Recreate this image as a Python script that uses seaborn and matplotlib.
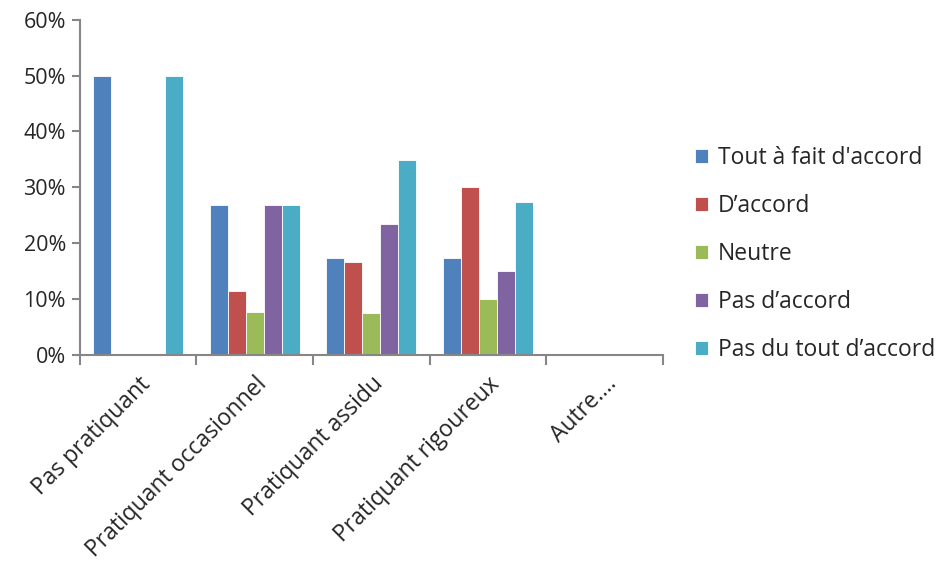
import pandas as pd
import numpy as np
import seaborn as sns
import matplotlib.pyplot as plt
from matplotlib.ticker import PercentFormatter

categories = ["Pas pratiquant", "Pratiquant occasionnel", "Pratiquant assidu",
              "Pratiquant rigoureux", "Autre…."]
series = ["Tout à fait d'accord", "D\u2019accord", "Neutre",
          "Pas d\u2019accord", "Pas du tout d\u2019accord"]

tout_a_fait = [50.0, 26.9, 17.4, 17.4, 0]
d_accord = [0, 11.5, 16.6, 30.0, 0]
neutre = [0, 7.7, 7.5, 10.0, 0]
pas_d_accord = [0, 26.9, 23.4, 15.0, 0]
pas_du_tout = [50.0, 26.9, 34.8, 27.4, 0]

colors = ["#4F81BD", "#C0504D", "#9BBB59", "#8064A2", "#4BACC6"]

values = [tout_a_fait, d_accord, neutre, pas_d_accord, pas_du_tout]
df = pd.DataFrame({
    "categorie": np.tile(categories, len(series)),
    "avis": np.repeat(series, len(categories)),
    "pct": np.concatenate(values),
})

sns.set_style("white")
plt.rcParams['font.family'] = ['Open Sans', 'DejaVu Sans']

fig = plt.figure(figsize=(9.4, 5.65), dpi=100)
ax = fig.add_axes([0.085, 0.372, 0.62, 0.593])

sns.barplot(data=df, x="categorie", y="pct", hue="avis", order=categories,
            hue_order=series, palette=colors, width=0.77, saturation=1,
            edgecolor="white", linewidth=0.6, ax=ax)

ax.set_ylim(0, 60)
ax.set_xlim(-0.5, len(categories) - 0.5)
ax.set_yticks(range(0, 61, 10))
ax.yaxis.set_major_formatter(PercentFormatter(decimals=0))
ax.set_xlabel("")
ax.set_ylabel("")

for s in ["top", "right"]:
    ax.spines[s].set_visible(False)
for s in ["left", "bottom"]:
    ax.spines[s].set_color("#868686")
    ax.spines[s].set_linewidth(1.5)

ax.tick_params(axis="y", which="major", left=True, length=6, width=1.5,
               color="#868686", labelsize=15.5, pad=4)
ax.set_xticks(np.arange(-0.5, len(categories), 1.0), minor=True)
ax.tick_params(axis="x", which="minor", bottom=True, length=7, width=1.5,
               color="#868686")
ax.tick_params(axis="x", which="major", bottom=False, labelsize=16.5, pad=9)
ax.set_xticks(range(len(categories)))
ax.set_xticklabels(categories, rotation=45, ha="right", va="top",
                   rotation_mode="anchor")

leg = ax.legend(loc="center left", bbox_to_anchor=(1.04, 0.30), frameon=False,
                fontsize=16.5, labelspacing=1.05, handlelength=0.55,
                handleheight=0.55, handletextpad=0.45, borderaxespad=0)

plt.savefig("out.png", dpi=100)
